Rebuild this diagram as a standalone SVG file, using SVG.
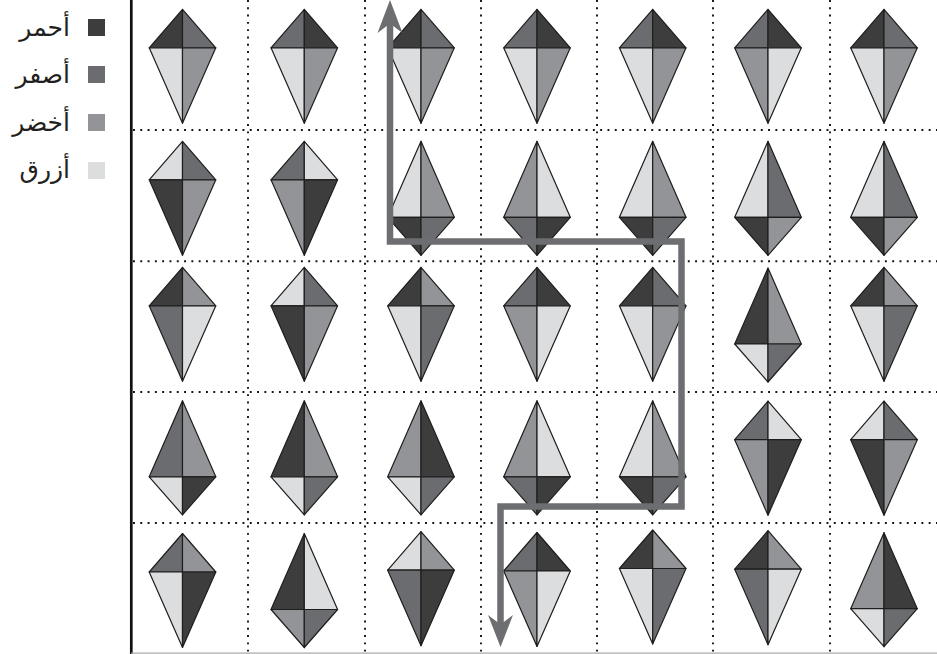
<svg xmlns="http://www.w3.org/2000/svg" xmlns:xlink="http://www.w3.org/1999/xlink" width="937" height="654" viewBox="0 0 937 654">
<style>
.r{fill:#3d3d3e}
.y{fill:#6b6c6f}
.g{fill:#939497}
.b{fill:#dcdddf}
.q{stroke:#1e1e1e;stroke-width:1.2;stroke-linejoin:round}
.dot{stroke:#111;stroke-width:1.9;stroke-dasharray:1.9 5.4;fill:none}
.lbl{font-family:"DejaVu Sans",sans-serif;font-size:25px;fill:#231f20;text-anchor:end}
.path{fill:none;stroke:#6d6e71;stroke-width:6.5;stroke-linejoin:miter}
.head{fill:#6d6e71}
</style>
<defs>
<polygon id="sTL" class="q" points="0,0 -33.3,38.5 0,38.5"/>
<polygon id="sTR" class="q" points="0,0 33.3,38.5 0,38.5"/>
<polygon id="sBL" class="q" points="0,38.5 -33.3,38.5 0,114"/>
<polygon id="sBR" class="q" points="0,38.5 33.3,38.5 0,114"/>
<polygon id="lTL" class="q" points="0,0 -33.3,76 0,76"/>
<polygon id="lTR" class="q" points="0,0 33.3,76 0,76"/>
<polygon id="lBL" class="q" points="0,76 -33.3,76 0,114"/>
<polygon id="lBR" class="q" points="0,76 33.3,76 0,114"/>
</defs>
<rect width="937" height="654" fill="#fff"/>
<g id="legend">
<rect x="88" y="19" width="17" height="17" class="r"/>
<rect x="88" y="66" width="17" height="17" class="y"/>
<rect x="88" y="114" width="17" height="17" class="g"/>
<rect x="88" y="162" width="17" height="17" class="b"/>
<text class="lbl" x="70" y="36">أحمر</text>
<text class="lbl" x="70" y="83">أصفر</text>
<text class="lbl" x="70" y="131">أخضر</text>
<text class="lbl" x="70" y="178">أزرق</text>
</g>
<g id="grid">
<line class="dot" x1="133" y1="130" x2="937" y2="130"/>
<line class="dot" x1="133" y1="261.3" x2="937" y2="261.3"/>
<line class="dot" x1="133" y1="392" x2="937" y2="392"/>
<line class="dot" x1="133" y1="523" x2="937" y2="523"/>
<line class="dot" x1="248" y1="0" x2="248" y2="654"/>
<line class="dot" x1="365" y1="0" x2="365" y2="654"/>
<line class="dot" x1="481" y1="0" x2="481" y2="654"/>
<line class="dot" x1="597" y1="0" x2="597" y2="654"/>
<line class="dot" x1="713" y1="0" x2="713" y2="654"/>
<line class="dot" x1="830" y1="0" x2="830" y2="654"/>
<line x1="131.3" y1="0" x2="131.3" y2="654" stroke="#111" stroke-width="2.7"/>
<line x1="131" y1="653.2" x2="937" y2="653.2" stroke="#aaa" stroke-width="1.2"/>
</g>
<g id="kites">
<!-- row 1 -->
<g id="k1-1" transform="translate(182.5,9.3)"><use xlink:href="#sTL" class="r"/><use xlink:href="#sTR" class="y"/><use xlink:href="#sBL" class="b"/><use xlink:href="#sBR" class="g"/></g>
<g id="k1-2" transform="translate(304.3,9.3)"><use xlink:href="#sTL" class="y"/><use xlink:href="#sTR" class="r"/><use xlink:href="#sBL" class="b"/><use xlink:href="#sBR" class="g"/></g>
<g id="k1-3" transform="translate(421,9.3)"><use xlink:href="#sTL" class="r"/><use xlink:href="#sTR" class="y"/><use xlink:href="#sBL" class="b"/><use xlink:href="#sBR" class="g"/></g>
<g id="k1-4" transform="translate(537,9.3)"><use xlink:href="#sTL" class="y"/><use xlink:href="#sTR" class="r"/><use xlink:href="#sBL" class="b"/><use xlink:href="#sBR" class="g"/></g>
<g id="k1-5" transform="translate(652.7,9.3)"><use xlink:href="#sTL" class="y"/><use xlink:href="#sTR" class="r"/><use xlink:href="#sBL" class="b"/><use xlink:href="#sBR" class="g"/></g>
<g id="k1-6" transform="translate(768,9.3)"><use xlink:href="#sTL" class="y"/><use xlink:href="#sTR" class="r"/><use xlink:href="#sBL" class="g"/><use xlink:href="#sBR" class="b"/></g>
<g id="k1-7" transform="translate(884,9.3)"><use xlink:href="#sTL" class="r"/><use xlink:href="#sTR" class="y"/><use xlink:href="#sBL" class="b"/><use xlink:href="#sBR" class="g"/></g>
<!-- row 2 -->
<g id="k2-1" transform="translate(182.5,141.3)"><use xlink:href="#sTL" class="b"/><use xlink:href="#sTR" class="y"/><use xlink:href="#sBL" class="r"/><use xlink:href="#sBR" class="g"/></g>
<g id="k2-2" transform="translate(304.3,141.3)"><use xlink:href="#sTL" class="y"/><use xlink:href="#sTR" class="b"/><use xlink:href="#sBL" class="g"/><use xlink:href="#sBR" class="r"/></g>
<g id="k2-3" transform="translate(421,141.3)"><use xlink:href="#lTL" class="b"/><use xlink:href="#lTR" class="g"/><use xlink:href="#lBL" class="r"/><use xlink:href="#lBR" class="y"/></g>
<g id="k2-4" transform="translate(537,141.3)"><use xlink:href="#lTL" class="g"/><use xlink:href="#lTR" class="b"/><use xlink:href="#lBL" class="y"/><use xlink:href="#lBR" class="r"/></g>
<g id="k2-5" transform="translate(652.7,141.3)"><use xlink:href="#lTL" class="b"/><use xlink:href="#lTR" class="g"/><use xlink:href="#lBL" class="r"/><use xlink:href="#lBR" class="y"/></g>
<g id="k2-6" transform="translate(768,141.3)"><use xlink:href="#lTL" class="b"/><use xlink:href="#lTR" class="y"/><use xlink:href="#lBL" class="r"/><use xlink:href="#lBR" class="g"/></g>
<g id="k2-7" transform="translate(884,141.3)"><use xlink:href="#lTL" class="b"/><use xlink:href="#lTR" class="y"/><use xlink:href="#lBL" class="r"/><use xlink:href="#lBR" class="g"/></g>
<!-- row 3 -->
<g id="k3-1" transform="translate(182.5,267.3)"><use xlink:href="#sTL" class="r"/><use xlink:href="#sTR" class="g"/><use xlink:href="#sBL" class="y"/><use xlink:href="#sBR" class="b"/></g>
<g id="k3-2" transform="translate(304.3,267.3)"><use xlink:href="#sTL" class="b"/><use xlink:href="#sTR" class="y"/><use xlink:href="#sBL" class="r"/><use xlink:href="#sBR" class="g"/></g>
<g id="k3-3" transform="translate(421,267.3)"><use xlink:href="#sTL" class="r"/><use xlink:href="#sTR" class="g"/><use xlink:href="#sBL" class="b"/><use xlink:href="#sBR" class="y"/></g>
<g id="k3-4" transform="translate(537,267.3)"><use xlink:href="#sTL" class="y"/><use xlink:href="#sTR" class="r"/><use xlink:href="#sBL" class="g"/><use xlink:href="#sBR" class="b"/></g>
<g id="k3-5" transform="translate(652.7,267.3)"><use xlink:href="#sTL" class="r"/><use xlink:href="#sTR" class="y"/><use xlink:href="#sBL" class="b"/><use xlink:href="#sBR" class="g"/></g>
<g id="k3-6" transform="translate(768,268)"><use xlink:href="#lTL" class="r"/><use xlink:href="#lTR" class="g"/><use xlink:href="#lBL" class="b"/><use xlink:href="#lBR" class="y"/></g>
<g id="k3-7" transform="translate(884,267.3)"><use xlink:href="#sTL" class="r"/><use xlink:href="#sTR" class="g"/><use xlink:href="#sBL" class="b"/><use xlink:href="#sBR" class="y"/></g>
<!-- row 4 -->
<g id="k4-1" transform="translate(182.5,400.8)"><use xlink:href="#lTL" class="y"/><use xlink:href="#lTR" class="g"/><use xlink:href="#lBL" class="b"/><use xlink:href="#lBR" class="r"/></g>
<g id="k4-2" transform="translate(304.3,400.8)"><use xlink:href="#lTL" class="r"/><use xlink:href="#lTR" class="g"/><use xlink:href="#lBL" class="b"/><use xlink:href="#lBR" class="y"/></g>
<g id="k4-3" transform="translate(421,400.8)"><use xlink:href="#lTL" class="g"/><use xlink:href="#lTR" class="r"/><use xlink:href="#lBL" class="b"/><use xlink:href="#lBR" class="y"/></g>
<g id="k4-4" transform="translate(537,400.8)"><use xlink:href="#lTL" class="g"/><use xlink:href="#lTR" class="b"/><use xlink:href="#lBL" class="y"/><use xlink:href="#lBR" class="r"/></g>
<g id="k4-5" transform="translate(652.7,400.8)"><use xlink:href="#lTL" class="b"/><use xlink:href="#lTR" class="g"/><use xlink:href="#lBL" class="r"/><use xlink:href="#lBR" class="y"/></g>
<g id="k4-6" transform="translate(768,401.2)"><use xlink:href="#sTL" class="y"/><use xlink:href="#sTR" class="b"/><use xlink:href="#sBL" class="g"/><use xlink:href="#sBR" class="r"/></g>
<g id="k4-7" transform="translate(884,401.2)"><use xlink:href="#sTL" class="b"/><use xlink:href="#sTR" class="y"/><use xlink:href="#sBL" class="r"/><use xlink:href="#sBR" class="g"/></g>
<!-- row 5 -->
<g id="k5-1" transform="translate(182.5,533.5)"><use xlink:href="#sTL" class="y"/><use xlink:href="#sTR" class="g"/><use xlink:href="#sBL" class="b"/><use xlink:href="#sBR" class="r"/></g>
<g id="k5-2" transform="translate(304.3,533.5)"><use xlink:href="#lTL" class="r"/><use xlink:href="#lTR" class="b"/><use xlink:href="#lBL" class="g"/><use xlink:href="#lBR" class="y"/></g>
<g id="k5-3" transform="translate(421,531.7)"><use xlink:href="#sTL" class="b"/><use xlink:href="#sTR" class="g"/><use xlink:href="#sBL" class="y"/><use xlink:href="#sBR" class="r"/></g>
<g id="k5-4" transform="translate(537,532.5)"><use xlink:href="#sTL" class="y"/><use xlink:href="#sTR" class="r"/><use xlink:href="#sBL" class="g"/><use xlink:href="#sBR" class="b"/></g>
<g id="k5-5" transform="translate(652.7,530)"><use xlink:href="#sTL" class="r"/><use xlink:href="#sTR" class="g"/><use xlink:href="#sBL" class="b"/><use xlink:href="#sBR" class="y"/></g>
<g id="k5-6" transform="translate(768,530.7)"><use xlink:href="#sTL" class="r"/><use xlink:href="#sTR" class="g"/><use xlink:href="#sBL" class="y"/><use xlink:href="#sBR" class="b"/></g>
<g id="k5-7" transform="translate(884,532.7)"><use xlink:href="#lTL" class="g"/><use xlink:href="#lTR" class="r"/><use xlink:href="#lBL" class="b"/><use xlink:href="#lBR" class="y"/></g>
</g>
<g id="connectors">
<polyline class="path" points="390,22 390,241.5 681.5,241.5 681.5,506.5 500.5,506.5 500.5,627"/>
<polygon class="head" points="390,0 402.5,33 390,23.5 377.5,33"/>
<polygon class="head" points="500.5,647 513,615 500.5,624.5 488,615"/>
</g>
</svg>
